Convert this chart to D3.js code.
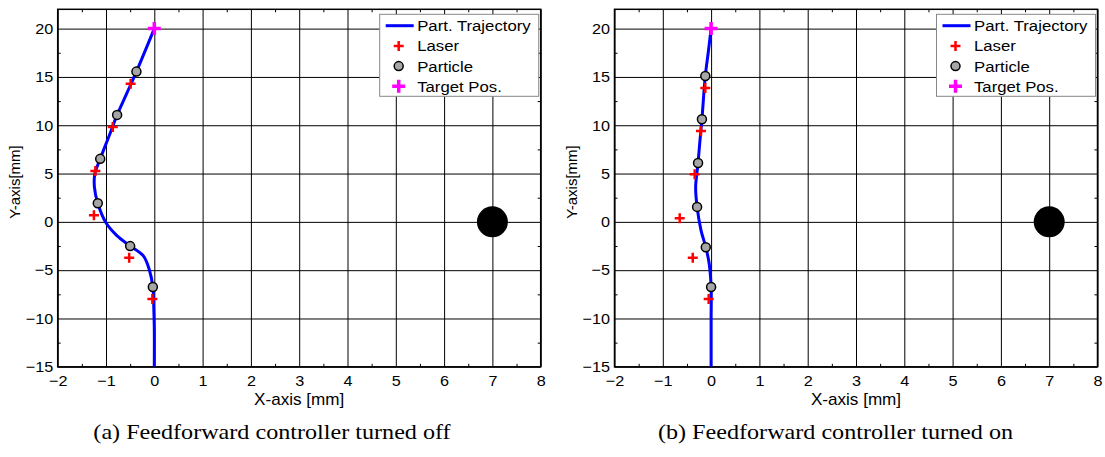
<!DOCTYPE html>
<meta charset="utf-8">
<script src="https://d3js.org/d3.v7.min.js"></script>
<style>
  body { margin: 0; background: #fff; }
  text { font-family: "Liberation Sans", Arial, Helvetica, sans-serif; }
  .caption { font-family: "Liberation Serif", "Times New Roman", serif; }
</style>
<div id="chart"></div>
<script>

var xTicks = [-2, -1, 0, 1, 2, 3, 4, 5, 6, 7, 8];
var yTicks = [-15, -10, -5, 0, 5, 10, 15, 20];
var obstacle = [7, 0];
var target = [0, 20];
var legendLabels = ["Part. Trajectory", "Laser", "Particle", "Target Pos."];
var captions = ["(a) Feedforward controller turned off", "(b) Feedforward controller turned on"];

// (a) feedforward off
var offTrajectory = [
  [0, -15], [0, -11], [-0.01, -9], [-0.03, -6.75], [-0.1, -5], [-0.23, -3.5],
  [-0.5, -2.5], [-0.78, -1.4], [-1.0, -0.1], [-1.17, 1.93], [-1.24, 3.6],
  [-1.23, 5.0], [-1.12, 6.52], [-0.92, 9.1], [-0.77, 11.07], [-0.57, 13.3],
  [-0.37, 15.55], [0, 20]
];
var offLaser = [
  [-0.49, 14.3], [-0.86, 9.82], [-1.22, 5.27], [-1.25, 0.69], [-0.52, -3.72], [-0.04, -7.99]
];
var offParticle = [
  [-0.37, 15.55], [-0.77, 11.07], [-1.12, 6.52], [-1.17, 1.93], [-0.5, -2.51], [-0.03, -6.75]
];

// (b) feedforward on
var onTrajectory = [
  [0, -15], [0, -10], [0, -6.75], [-0.04, -4.3], [-0.11, -2.62], [-0.21, -0.86],
  [-0.29, 1.55], [-0.32, 3.6], [-0.27, 6.1], [-0.23, 8.45], [-0.19, 10.62],
  [-0.12, 15.1], [-0.06, 17.5], [0, 20]
];
var onLaser = [
  [-0.12, 13.86], [-0.21, 9.41], [-0.34, 4.93], [-0.65, 0.38], [-0.38, -3.72], [-0.05, -7.99]
];
var onParticle = [
  [-0.12, 15.1], [-0.19, 10.62], [-0.27, 6.1], [-0.29, 1.55], [-0.11, -2.62], [0, -6.75]
];

var svg = d3.select("#chart")
  .append("svg")
    .attr("width", 1105)
    .attr("height", 457);

var plus = function(s) { return "M" + (-s) + ",0H" + s + "M0," + (-s) + "V" + s; };

// the source figure is a bit wider than tall, stretch the text the same way
function stretch(sel, k) {
  sel.each(function() {
    var t = d3.select(this);
    var tx = +t.attr("x") || 0, ty = +t.attr("y") || 0;
    t.attr("x", 0).attr("y", 0)
      .attr("transform", "translate(" + tx + "," + ty + ") scale(" + k + ",1)");
  });
}

function drawPanel(left, traj, laser, particle, caption, captionX) {
  var width = 483, height = 357.5, top = 9.3;
  var g = svg.append("g")
    .attr("transform", "translate(" + left + "," + top + ")");

  var x = d3.scaleLinear().domain([-2, 8]).range([0, width]);
  var y = d3.scaleLinear().domain([-15, 22]).range([height, 0]);

  // grid
  g.append("g")
    .call(d3.axisBottom(x).tickValues(xTicks).tickSize(height).tickFormat(""))
    .call(function(a) { a.select(".domain").remove(); })
    .selectAll("line").attr("stroke", "#000").attr("stroke-width", 1);
  g.append("g")
    .call(d3.axisRight(y).tickValues(yTicks).tickSize(width).tickFormat(""))
    .call(function(a) { a.select(".domain").remove(); })
    .selectAll("line").attr("stroke", "#000").attr("stroke-width", 1);

  // minor ticks, inward on all sides
  var xMinor = xTicks.slice(1).map(function(v) { return v - 0.5; });
  var yMinor = yTicks.slice(1).map(function(v) { return v - 2.5; });
  var minor = [
    [d3.axisBottom(x).tickValues(xMinor).tickSize(-3), "translate(0," + height + ")"],
    [d3.axisTop(x).tickValues(xMinor).tickSize(-3), "translate(0,0)"],
    [d3.axisLeft(y).tickValues(yMinor).tickSize(-3), "translate(0,0)"],
    [d3.axisRight(y).tickValues(yMinor).tickSize(-3), "translate(" + width + ",0)"]
  ];
  minor.forEach(function(m) {
    g.append("g").attr("transform", m[1])
      .call(m[0].tickFormat(""))
      .call(function(a) { a.select(".domain").remove(); })
      .selectAll("line").attr("stroke", "#000").attr("stroke-width", 1);
  });

  // tick labels
  g.append("g")
    .attr("transform", "translate(0," + height + ")")
    .call(d3.axisBottom(x).tickValues(xTicks).tickSize(0).tickPadding(8.5))
    .call(function(a) { a.select(".domain").remove(); })
    .selectAll("text")
      .attr("fill", "#000")
      .style("font-size", "15px")
      .style("font-family", "Liberation Sans, Arial, sans-serif")
      .call(stretch, 1.08);
  g.append("g")
    .call(d3.axisLeft(y).tickValues(yTicks).tickSize(0).tickPadding(4.5))
    .call(function(a) { a.select(".domain").remove(); })
    .selectAll("text")
      .attr("fill", "#000")
      .style("font-size", "15px")
      .style("font-family", "Liberation Sans, Arial, sans-serif")
      .call(stretch, 1.08);

  // frame
  g.append("rect")
    .attr("width", width)
    .attr("height", height)
    .attr("fill", "none")
    .attr("stroke", "#000")
    .attr("stroke-width", 1.5);

  // axis titles
  g.append("text")
    .attr("x", width / 2)
    .attr("y", height + 38)
    .attr("text-anchor", "middle")
    .style("font-size", "16px")
    .text("X-axis [mm]")
    .call(stretch, 1.07);
  g.append("text")
    .attr("transform", "translate(-38," + (height / 2 - 6) + ") rotate(-90)")
    .attr("text-anchor", "middle")
    .style("font-size", "15px")
    .text("Y-axis[mm]");

  // obstacle
  g.append("circle")
    .attr("cx", x(obstacle[0]))
    .attr("cy", y(obstacle[1]))
    .attr("r", 15.5)
    .attr("fill", "#000");

  // trajectory
  g.append("path")
    .datum(traj)
    .attr("fill", "none")
    .attr("stroke", "#0000ff")
    .attr("stroke-width", 3)
    .attr("d", d3.line()
      .curve(d3.curveCatmullRom.alpha(0.5))
      .x(function(d) { return x(d[0]); })
      .y(function(d) { return y(d[1]); }));

  // laser
  g.append("g").selectAll("path")
    .data(laser)
    .enter()
    .append("path")
      .attr("transform", function(d) { return "translate(" + x(d[0]) + "," + y(d[1]) + ")"; })
      .attr("d", plus(5))
      .attr("stroke", "#ff0000")
      .attr("stroke-width", 2.5);

  // particle
  g.append("g").selectAll("circle")
    .data(particle)
    .enter()
    .append("circle")
      .attr("cx", function(d) { return x(d[0]); })
      .attr("cy", function(d) { return y(d[1]); })
      .attr("r", 4.5)
      .attr("fill", "#a6a6a6")
      .attr("stroke", "#000")
      .attr("stroke-width", 1.5);

  // target
  g.append("path")
    .attr("transform", "translate(" + x(target[0]) + "," + y(target[1]) + ")")
    .attr("d", plus(6.5))
    .attr("stroke", "#ff00ff")
    .attr("stroke-width", 3.5);

  // legend
  var lg = g.append("g").attr("transform", "translate(" + (width - 161) + ",5)");
  lg.append("rect")
    .attr("width", 159)
    .attr("height", 82)
    .attr("fill", "#fff")
    .attr("stroke", "#888")
    .attr("stroke-width", 1);
  var rowY = function(i) { return 11.4 + i * 20.2; };
  lg.append("line")
    .attr("x1", 6).attr("x2", 34)
    .attr("y1", rowY(0)).attr("y2", rowY(0))
    .attr("stroke", "#0000ff").attr("stroke-width", 3);
  lg.append("path")
    .attr("transform", "translate(19," + rowY(1) + ")")
    .attr("d", plus(5)).attr("stroke", "#ff0000").attr("stroke-width", 2.5);
  lg.append("circle")
    .attr("cx", 19).attr("cy", rowY(2)).attr("r", 4.5)
    .attr("fill", "#a6a6a6").attr("stroke", "#000").attr("stroke-width", 1.5);
  lg.append("path")
    .attr("transform", "translate(19," + rowY(3) + ")")
    .attr("d", plus(6.5)).attr("stroke", "#ff00ff").attr("stroke-width", 3.5);
  lg.selectAll(".lbl")
    .data(legendLabels)
    .enter()
    .append("text")
      .attr("class", "lbl")
      .attr("x", 37.5)
      .attr("y", function(d, i) { return rowY(i) + 5.4; })
      .style("font-size", "15.5px")
      .text(function(d) { return d; })
      .call(stretch, 1.08);

  // caption
  svg.append("text")
    .attr("class", "caption")
    .attr("x", captionX)
    .attr("y", 439)
    .attr("text-anchor", "middle")
    .style("font-size", "21px")
    .text(caption)
    .call(stretch, 1.15);
}

drawPanel(57.7, offTrajectory, offLaser, offParticle, captions[0], 272);
drawPanel(614.5, onTrajectory, onLaser, onParticle, captions[1], 835.5);

</script>
